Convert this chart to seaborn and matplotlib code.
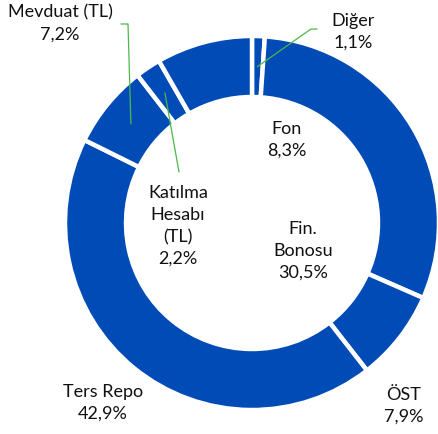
import numpy as np
import matplotlib
matplotlib.use("Agg")
import matplotlib.pyplot as plt
import seaborn as sns

# ---- data ----
categories = ["Diğer", "Fin.\nBonosu", "ÖST", "Ters Repo", "Mevduat (TL)", "Katılma\nHesabı\n(TL)", "Fon"]
shares = [1.1, 30.5, 7.9, 42.9, 7.2, 2.2, 8.3]
# label anchor positions in pixels (x, y) of the reference image
label_px = [(353, 31.5), (303, 251), (404, 406), (103, 403), (60, 23.5), (178, 226), (287, 139.5)]
# leader lines (label side, pixel) for small slices: index -> list of points
leader_px = {0: [(317, 29), (311, 29)], 4: [(121, 24), (128, 24)], 5: [(179, 172)]}

sns.set_theme(style="white")
plt.rcParams["font.family"] = ["Lato", "DejaVu Sans"]

W, H = 439, 434
CX, CY, R = 252, 223, 187
fig = plt.figure(figsize=(W / 100, H / 100), dpi=100)
ax = fig.add_axes([0, 0, 1, 1])

blue = "#014BB7"
colors = [blue] * len(shares)
wedges, _ = ax.pie(shares, colors=colors, startangle=90, counterclock=False,
                   wedgeprops=dict(width=1 - 126 / 187, edgecolor="white", linewidth=3.2),
                   radius=1.0)

def px(x, y):
    return ((x - CX) / R, (CY - y) / R)

ax.set_xlim(px(0, 0)[0], px(W, 0)[0])
ax.set_ylim(px(0, H)[1], px(0, 0)[1])
ax.set_aspect("auto")
ax.axis("off")

mid_r = (1 + 126 / 187) / 2
for i, (lab, v) in enumerate(zip(categories, shares)):
    tx, ty = px(*label_px[i])
    txt = f"{lab}\n{v:.1f}%".replace(".", ",").replace("Fin,", "Fin.")
    ax.text(tx, ty, txt, ha="center", va="center", fontsize=13,
            color="#111111", linespacing=1.45)
    if i in leader_px:
        w = wedges[i]
        ang = np.deg2rad((w.theta1 + w.theta2) / 2)
        end = (mid_r * np.cos(ang), mid_r * np.sin(ang))
        pts = [px(*p) for p in leader_px[i]] + [end]
        xs, ys = zip(*pts)
        ax.plot(xs, ys, color="#4DB848", lw=0.9)

fig.savefig("out.png", dpi=100)
